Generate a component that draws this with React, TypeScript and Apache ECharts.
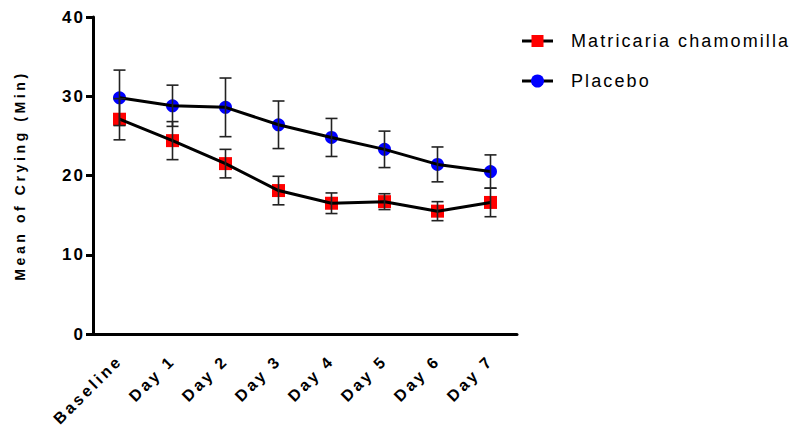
import React, { useEffect, useRef } from "react";
import * as echarts from "echarts";

const categories = ["Baseline", "Day 1", "Day 2", "Day 3", "Day 4", "Day 5", "Day 6", "Day 7"];
const chamomillaMean = [27.1, 24.4, 21.5, 18.1, 16.5, 16.7, 15.5, 16.6];
const chamomillaErr = [2.6, 2.4, 1.8, 1.8, 1.3, 1.0, 1.2, 1.8];
const placeboMean = [29.8, 28.8, 28.6, 26.4, 24.8, 23.3, 21.4, 20.5];
const placeboErr = [3.5, 2.6, 3.7, 3.0, 2.4, 2.3, 2.2, 2.1];
const seriesNames = ["Matricaria chamomilla", "Placebo"];
const yTitle = "Mean of Crying (Min)";

const FONT = "'Liberation Sans', Arial, sans-serif";

function errData(mean: number[], err: number[]) {
  return mean.map((m, i) => [i, m - err[i], m + err[i]]);
}

function errorRender(params: any, api: any) {
  const i = api.value(0);
  const lo = api.coord([i, api.value(1)]);
  const hi = api.coord([i, api.value(2)]);
  const w = 6;
  const st = { stroke: "#222", lineWidth: 1.6 };
  return {
    type: "group",
    children: [
      { type: "line", shape: { x1: lo[0], y1: lo[1], x2: hi[0], y2: hi[1] }, style: st },
      { type: "line", shape: { x1: lo[0] - w, y1: lo[1], x2: lo[0] + w, y2: lo[1] }, style: st },
      { type: "line", shape: { x1: hi[0] - w, y1: hi[1], x2: hi[0] + w, y2: hi[1] }, style: st },
    ],
  };
}

export default function App() {
  const ref = useRef<HTMLDivElement>(null);
  useEffect(() => {
    if (!ref.current) return;
    const chart = echarts.init(ref.current, undefined, { renderer: "svg" });
    const legendX = 522;
    const legendTextX = 571;
    const legendY = [41, 81];
    chart.setOption({
      animation: false,
      backgroundColor: "#ffffff",
      grid: { left: 93, right: 275, top: 17, bottom: 95, containLabel: false },
      xAxis: {
        type: "category",
        data: categories,
        boundaryGap: true,
        axisLine: { lineStyle: { color: "#000", width: 3 } },
        axisTick: { alignWithLabel: true, length: 7, lineStyle: { color: "#000", width: 3 } },
        axisLabel: {
          rotate: 45,
          color: "#000",
          fontFamily: FONT,
          fontWeight: "bold",
          fontSize: 16,
          margin: 24,
          interval: 0,
        },
        splitLine: { show: false },
      },
      yAxis: {
        type: "value",
        min: 0,
        max: 40,
        interval: 10,
        name: yTitle,
        nameLocation: "middle",
        nameGap: 66,
        nameTextStyle: { color: "#000", fontFamily: FONT, fontWeight: "bold", fontSize: 14 },
        axisLine: { show: true, lineStyle: { color: "#000", width: 3 } },
        axisTick: { show: true, length: 7, lineStyle: { color: "#000", width: 3 } },
        axisLabel: { color: "#000", fontFamily: FONT, fontWeight: "bold", fontSize: 17, margin: 8 },
        splitLine: { show: false },
      },
      graphic: [
        { type: "line", shape: { x1: legendX, y1: legendY[0], x2: legendX + 31, y2: legendY[0] }, style: { stroke: "#000", lineWidth: 3 } },
        { type: "rect", shape: { x: legendX + 9.5, y: legendY[0] - 6, width: 12, height: 12 }, style: { fill: "#ff0000" } },
        { type: "text", x: legendTextX, y: legendY[0], style: { text: seriesNames[0], fill: "#000", font: `18px ${FONT}`, verticalAlign: "middle", align: "left" } },
        { type: "line", shape: { x1: legendX, y1: legendY[1], x2: legendX + 31, y2: legendY[1] }, style: { stroke: "#000", lineWidth: 3 } },
        { type: "circle", shape: { cx: legendX + 15.5, cy: legendY[1], r: 6.5 }, style: { fill: "#0000ff" } },
        { type: "text", x: legendTextX, y: legendY[1], style: { text: seriesNames[1], fill: "#000", font: `18px ${FONT}`, verticalAlign: "middle", align: "left" } },
      ],
      series: [
        {
          name: seriesNames[0] + " markers",
          type: "scatter",
          data: chamomillaMean,
          symbol: "rect",
          symbolSize: 13,
          itemStyle: { color: "#ff0000", opacity: 1 },
          z: 2,
        },
        {
          name: seriesNames[1] + " markers",
          type: "scatter",
          data: placeboMean,
          symbol: "circle",
          symbolSize: 13,
          itemStyle: { color: "#0000ff", opacity: 1 },
          z: 2,
        },
        {
          name: seriesNames[0],
          type: "line",
          data: chamomillaMean,
          showSymbol: false,
          lineStyle: { color: "#000", width: 3 },
          z: 3,
        },
        {
          name: seriesNames[1],
          type: "line",
          data: placeboMean,
          showSymbol: false,
          lineStyle: { color: "#000", width: 3 },
          z: 3,
        },
        {
          type: "custom",
          data: errData(chamomillaMean, chamomillaErr),
          renderItem: errorRender,
          encode: { x: 0, y: [1, 2] },
          z: 4,
        },
        {
          type: "custom",
          data: errData(placeboMean, placeboErr),
          renderItem: errorRender,
          encode: { x: 0, y: [1, 2] },
          z: 4,
        },
      ],
    });
    return () => chart.dispose();
  }, []);
  return (
    <>
      <style>{`
        #chartbox text { letter-spacing: 3px; }
        #chartbox text[style*="18px"] { letter-spacing: 2.1px; }
        #chartbox text[style*="17px"] { letter-spacing: 2px; }
        #chartbox text[style*="16px"] { letter-spacing: 3px; }
        #chartbox text[style*="14px"] { letter-spacing: 3.6px; }
      `}</style>
      <div
        id="chartbox"
        ref={ref}
        style={{ position: "fixed", left: 0, top: 0, width: 792, height: 429, background: "#fff" }}
      />
    </>
  );
}
